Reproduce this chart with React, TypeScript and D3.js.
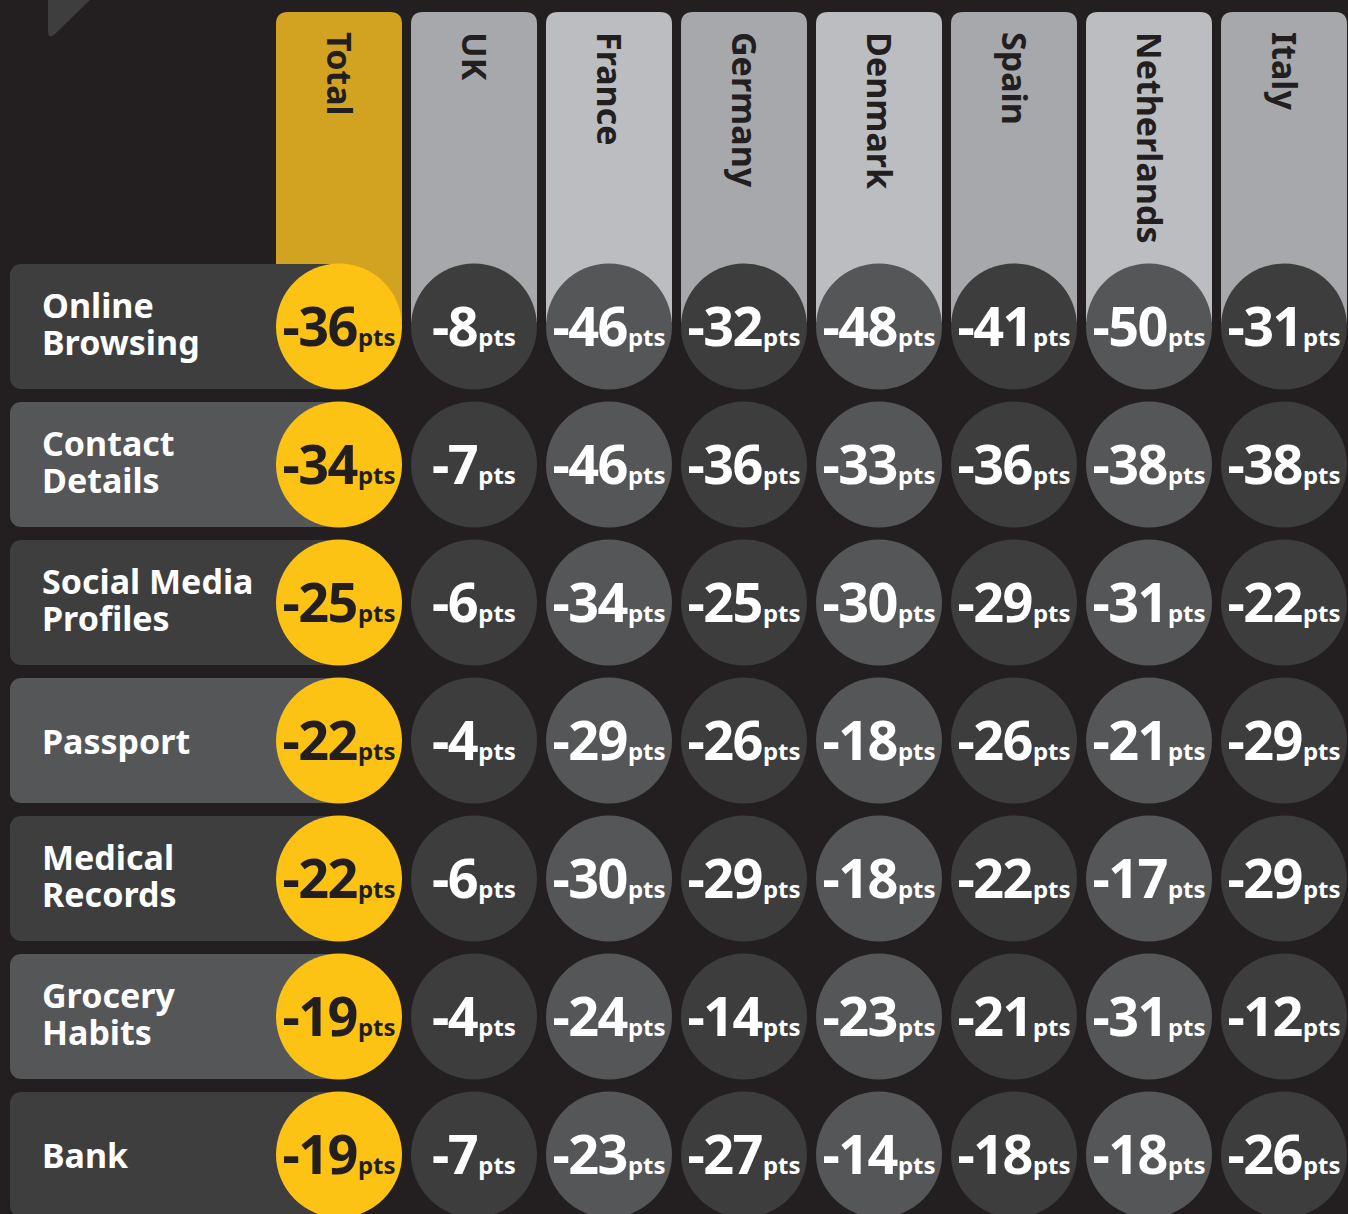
import React from "react";
import * as d3 from "d3";

const countries = ["Total", "UK", "France", "Germany", "Denmark", "Spain", "Netherlands", "Italy"];
const categories = ["Online Browsing", "Contact Details", "Social Media Profiles", "Passport", "Medical Records", "Grocery Habits", "Bank"];
const categoryLines = [["Online", "Browsing"], ["Contact", "Details"], ["Social Media", "Profiles"], ["Passport"], ["Medical", "Records"], ["Grocery", "Habits"], ["Bank"]];

const total = [-36, -34, -25, -22, -22, -19, -19];
const uk = [-8, -7, -6, -4, -6, -4, -7];
const france = [-46, -46, -34, -29, -30, -24, -23];
const germany = [-32, -36, -25, -26, -29, -14, -27];
const denmark = [-48, -33, -30, -18, -18, -23, -14];
const spain = [-41, -36, -29, -26, -22, -21, -18];
const netherlands = [-50, -38, -31, -21, -17, -31, -18];
const italy = [-31, -38, -22, -29, -29, -12, -26];

const seriesValues = [total, uk, france, germany, denmark, spain, netherlands, italy];
const unit = "pts";

const W = 1348;
const H = 1214;
const BG = "#231f20";
const FONT = "'Noto Sans', sans-serif";

export default function App() {
  const x = d3.scaleBand<string>().domain(countries).range([276, 1347]).paddingInner(9 / 135).paddingOuter(0);
  const y = d3.scaleBand<string>().domain(categories).range([264, 1217]).paddingInner(13 / 138).paddingOuter(0);
  const bw = x.bandwidth();
  const bh = y.bandwidth();
  const r = 63;
  const headerTop = 12;
  const firstCy = (y(categories[0]) as number) + bh / 2;

  const headerPath = (x0: number) => {
    const rr = 12;
    const x1 = x0 + bw;
    const yb = firstCy - 4;
    return `M${x0},${yb} L${x0},${headerTop + rr} Q${x0},${headerTop} ${x0 + rr},${headerTop} L${x1 - rr},${headerTop} Q${x1},${headerTop} ${x1},${headerTop + rr} L${x1},${yb} Z`;
  };

  return (
    <svg width={W} height={H} style={{ position: "absolute", left: 0, top: 0, display: "block" }} fontFamily={FONT}>
      <rect x={0} y={0} width={W} height={H} fill={BG} />
      <path d="M48,0 L48,31 Q48,41 56,33 L90,0 Z" fill="#3e3e3f" />
      {countries.map((c, i) => {
        const x0 = x(c) as number;
        const fill = i === 0 ? "#d2a320" : i % 2 === 1 ? "#a7a8ab" : "#bcbdc1";
        return (
          <g key={c}>
            <path d={headerPath(x0)} fill={fill} />
            <g transform={`translate(${x0 + bw / 2},${headerTop + 20}) rotate(90)`}>
              <text x={0} y={12} fontSize={34} fontWeight={700} fill={BG} textAnchor="start">
                {c}
              </text>
            </g>
          </g>
        );
      })}
      {categories.map((cat, ri) => {
        const y0 = y(cat) as number;
        const cy = y0 + bh / 2;
        const lines = categoryLines[ri];
        const boxFill = ri % 2 === 0 ? "#3e3e3f" : "#555658";
        const x0 = x(countries[0]) as number;
        return (
          <g key={cat}>
            <rect x={10} y={y0} width={x0 + bw / 2 - 10} height={bh} rx={11} fill={boxFill} />
            <text x={42} fontSize={34} fontWeight={700} fill="#ffffff">
              {lines.length === 2 ? (
                <>
                  <tspan x={42} y={cy - 9}>{lines[0]}</tspan>
                  <tspan x={42} y={cy + 28}>{lines[1]}</tspan>
                </>
              ) : (
                <tspan x={42} y={cy + 13}>{lines[0]}</tspan>
              )}
            </text>
          </g>
        );
      })}
      {categories.map((cat, ri) => {
        const cy = (y(cat) as number) + bh / 2;
        return (
          <g key={cat + "-c"}>
            {countries.map((c, ci) => {
              const cx = (x(c) as number) + bw / 2;
              const v = seriesValues[ci][ri];
              const fill = ci === 0 ? "#fdc314" : ci % 2 === 1 ? "#3d3d3e" : "#555658";
              const tc = ci === 0 ? BG : "#ffffff";
              return (
                <g key={c}>
                  <circle cx={cx} cy={cy} r={r} fill={fill} />
                  <text x={cx} y={cy + 19} textAnchor="middle" fill={tc} fontWeight={700}>
                    <tspan fontSize={54} letterSpacing={-1.5}>{String(v)}</tspan>
                    <tspan fontSize={24} dx={1}>{unit}</tspan>
                  </text>
                </g>
              );
            })}
          </g>
        );
      })}
    </svg>
  );
}
